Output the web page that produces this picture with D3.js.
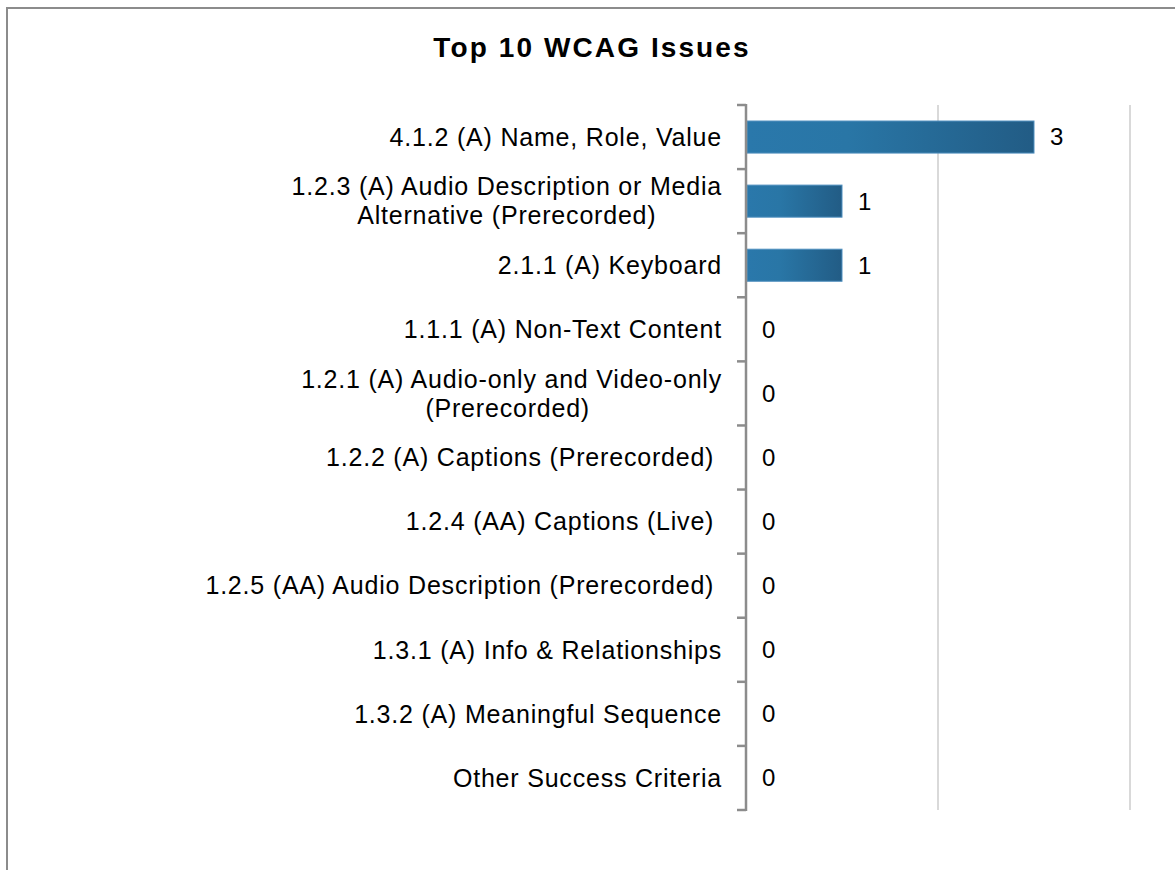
<!DOCTYPE html>
<html>
<head>
<meta charset="utf-8">
<script src="https://cdn.jsdelivr.net/npm/d3@7"></script>
<style>
	body { margin: 0; background: #fff; }
	svg { display: block; }
	text { font-family: "Liberation Sans", Arial, sans-serif; fill: #000; white-space: pre; }
</style>
</head>
<body>
<script>

//****************************************************************************************************************************//
// Data

var categories = [
	["4.1.2 (A) Name, Role, Value"],
	["1.2.3 (A) Audio Description or Media", "Alternative (Prerecorded)"],
	["2.1.1 (A) Keyboard"],
	["1.1.1 (A) Non-Text Content"],
	["1.2.1 (A) Audio-only and Video-only", "(Prerecorded) "],
	["1.2.2 (A) Captions (Prerecorded) "],
	["1.2.4 (AA) Captions (Live) "],
	["1.2.5 (AA) Audio Description (Prerecorded) "],
	["1.3.1 (A) Info & Relationships"],
	["1.3.2 (A) Meaningful Sequence"],
	["Other Success Criteria"]
];
var issueCounts = [3, 1, 1, 0, 0, 0, 0, 0, 0, 0, 0];
var gridTicks = [2, 4];

var width = 1175, height = 870;

//****************************************************************************************************************************//
// Canvas

var canvas = d3.select("body").append("svg")
				.attr("width", width)
				.attr("height", height);

// chart frame (right and bottom edges fall outside the picture)
canvas.append("rect")
		.attr("x", 7)
		.attr("y", 8)
		.attr("width", width + 20)
		.attr("height", height + 20)
		.attr("fill", "none")
		.attr("stroke", "#8c8c8c")
		.attr("stroke-width", 2);

canvas.append("text")
		.attr("x", 592)
		.attr("y", 57)
		.attr("text-anchor", "middle")
		.style("font-size", "28px")
		.style("font-weight", "bold")
		.style("letter-spacing", "2.1px")
		.text("Top 10 WCAG Issues");

//****************************************************************************************************************************//
// Scales

var plot = { left : 746, right : 1130, top : 105, bottom : 810 };

var x = d3.scaleLinear()
			.domain([0, 4])
			.range([plot.left, plot.right]);

var y = d3.scaleBand()
			.domain(d3.range(categories.length))
			.range([plot.top, plot.bottom])
			.paddingInner(0.5)
			.paddingOuter(0.25);

var step = y.step();

//****************************************************************************************************************************//
// Gridlines

canvas.append("g")
		.selectAll("line")
		.data(gridTicks)
		.join("line")
		.attr("x1", function(d){ return x(d); })
		.attr("x2", function(d){ return x(d); })
		.attr("y1", plot.top)
		.attr("y2", plot.bottom)
		.attr("stroke", "#d9d9d9")
		.attr("stroke-width", 2);

//****************************************************************************************************************************//
// Bars

var grad = canvas.append("defs").append("linearGradient")
				.attr("id", "barGrad")
				.attr("x1", "0%").attr("x2", "100%")
				.attr("y1", "0%").attr("y2", "0%");
grad.append("stop").attr("offset", "0%").attr("stop-color", "#2a78ab");
grad.append("stop").attr("offset", "35%").attr("stop-color", "#2976a6");
grad.append("stop").attr("offset", "100%").attr("stop-color", "#225c85");

canvas.append("g")
		.selectAll("rect")
		.data(issueCounts)
		.join("rect")
		.filter(function(d){ return d > 0; })
		.attr("x", x(0) + 1)
		.attr("y", function(d, i){ return y(i); })
		.attr("width", function(d){ return x(d) - x(0) - 1; })
		.attr("height", y.bandwidth())
		.attr("fill", "url(#barGrad)")
		.attr("stroke", "#4f8fbf")
		.attr("stroke-width", 1);

//****************************************************************************************************************************//
// Axis with ticks at category boundaries

var axis = canvas.append("g").attr("stroke", "#8c8c8c").attr("stroke-width", 2.5);

axis.append("line")
		.attr("x1", x(0)).attr("x2", x(0))
		.attr("y1", plot.top - 1).attr("y2", plot.bottom + 1);

axis.selectAll("line.tick")
		.data(d3.range(categories.length + 1))
		.join("line")
		.attr("class", "tick")
		.attr("x1", x(0) - 9)
		.attr("x2", x(0))
		.attr("y1", function(i){ return plot.top + i*step; })
		.attr("y2", function(i){ return plot.top + i*step; });

//****************************************************************************************************************************//
// Category labels

var labels = canvas.append("g")
				.selectAll("text")
				.data(categories)
				.join("text")
				.attr("text-anchor", "middle")
				.style("font-size", "25px")
				.style("letter-spacing", "0.8px")
				.attr("transform", function(d, i){
					return "translate(0," + (y(i) + y.bandwidth()/2) + ")";
				});

labels.each(function(lines){
	var node = d3.select(this);
	var lineHeight = 29;
	var tspans = node.selectAll("tspan")
					.data(lines)
					.join("tspan")
					.attr("y", function(d, j){ return (j - (lines.length - 1)/2)*lineHeight; })
					.attr("dy", "0.35em")
					.text(function(d){ return d; });
	// right-align the whole block against the axis, centre the lines inside it
	var maxW = d3.max(tspans.nodes(), function(n){ return n.getComputedTextLength(); });
	tspans.attr("x", x(0) - 24 - maxW/2);
});

//****************************************************************************************************************************//
// Value labels

canvas.append("g")
		.selectAll("text")
		.data(issueCounts)
		.join("text")
		.attr("x", function(d){ return x(d) + 16; })
		.attr("y", function(d, i){ return y(i) + y.bandwidth()/2; })
		.attr("dy", "0.35em")
		.style("font-size", "24px")
		.text(function(d){ return d; });

</script>
</body>
</html>
